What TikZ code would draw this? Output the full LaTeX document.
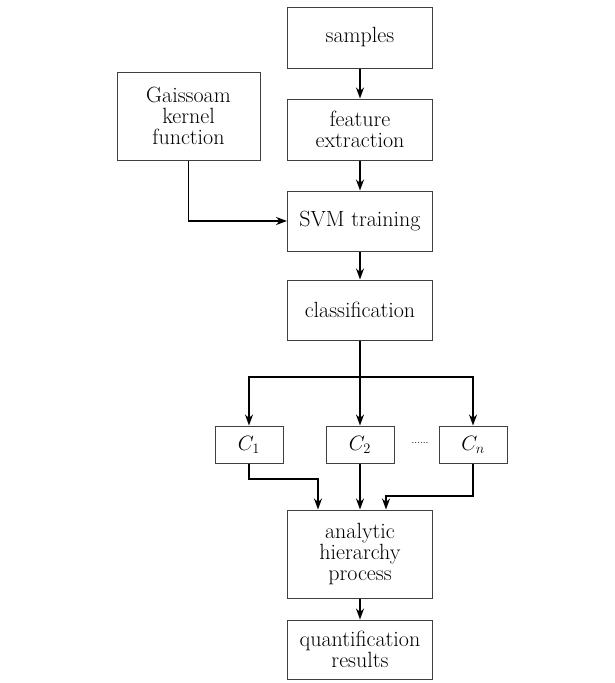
\documentclass[tikz,border=0pt]{standalone}
\usetikzlibrary{arrows.meta}
\begin{document}
\begin{tikzpicture}[x=1pt,y=-1pt,
  box/.style={draw=black!75,line width=1pt,minimum width=145pt,minimum height=61pt,align=center,inner sep=0pt,font=\fontsize{22}{21}\selectfont},
  cbox/.style={draw=black!75,line width=1pt,minimum width=68pt,minimum height=37pt,inner sep=0pt,font=\fontsize{21}{21}\selectfont},
  conn/.style={line width=1.8pt,-{Stealth[length=11pt,width=8pt]}},
  seg/.style={line width=1.8pt}]
\useasboundingbox (0,0) rectangle (615,683);
\fill[white] (0,0) rectangle (615,683);
\node[box] (samples) at (360,37.5) {samples};
\node[box] (feat) at (360,129.5) {feature\\extraction};
\node[box,minimum width=143pt,minimum height=88pt] (gauss) at (188.5,116) {Gaissoam\\kernel\\function};
\node[box,minimum height=60pt] (svm) at (360,221) {SVM training};
\node[box,minimum height=60pt] (cls) at (360,310) {classification};
\node[cbox] (c1) at (249,444.5) {$C_1$};
\node[cbox] (c2) at (360,444.5) {$C_2$};
\node[cbox] (cn) at (473,444.5) {$C_n$};
\node[font=\normalsize] (dots) at (420,443) {......};
\node[box,minimum height=88pt] (ahp) at (360,554) {analytic\\hierarchy\\process};
\node[box,minimum height=59pt] (res) at (360,649.5) {quantification\\results};
\coordinate (split) at (360,377);
\coordinate (m1) at (318,479);
\coordinate (mn) at (386,496);
\draw[conn] (samples) -- (feat);
\draw[conn] (feat) -- (svm);
\draw[conn] (gauss.south) |- (svm.west);
\draw[conn] (svm) -- (cls);
\draw[seg] (cls.south -| split) -- (split);
\draw[conn] (split) -| (c1.north);
\draw[conn] (split) -| (cn.north);
\draw[conn] (split) -- (c2.north);
\draw[conn] (c1.south) |- (m1) -- (m1 |- ahp.north);
\draw[conn] (c2.south) -- (c2.south |- ahp.north);
\draw[conn] (cn.south) |- (mn) -- (mn |- ahp.north);
\draw[conn] (ahp) -- (res);
\end{tikzpicture}
\end{document}
